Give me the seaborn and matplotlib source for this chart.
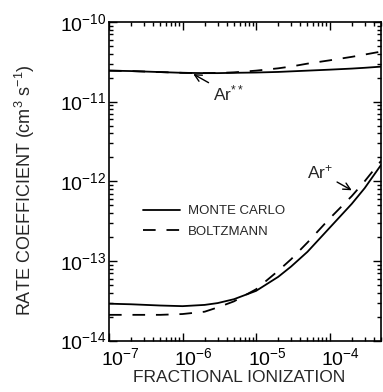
import numpy as np
import pandas as pd
import matplotlib
matplotlib.use("Agg")
import matplotlib.pyplot as plt
import matplotlib.transforms as mtransforms
from matplotlib.lines import Line2D
import seaborn as sns

# Fractional ionization grid
ionization = [1e-7, 2e-7, 5e-7, 1e-6, 2e-6, 3e-6, 5e-6, 1e-5,
              2e-5, 3e-5, 5e-5, 1e-4, 2e-4, 3e-4, 5e-4]

# Ar** rate coefficients (cm^3 s^-1)
ar_ss_monte_carlo = [2.45e-11, 2.42e-11, 2.35e-11, 2.30e-11, 2.28e-11, 2.28e-11, 2.30e-11, 2.32e-11,
                     2.36e-11, 2.40e-11, 2.45e-11, 2.52e-11, 2.60e-11, 2.66e-11, 2.75e-11]
ar_ss_boltzmann = [2.45e-11, 2.42e-11, 2.35e-11, 2.30e-11, 2.28e-11, 2.29e-11, 2.33e-11, 2.45e-11,
                   2.62e-11, 2.76e-11, 3.0e-11, 3.3e-11, 3.65e-11, 3.9e-11, 4.25e-11]

# Ar+ rate coefficients (cm^3 s^-1)
ar_p_monte_carlo = [2.9e-14, 2.85e-14, 2.75e-14, 2.7e-14, 2.8e-14, 2.95e-14, 3.3e-14, 4.2e-14,
                    6.3e-14, 8.5e-14, 1.3e-13, 2.6e-13, 5.2e-13, 8.2e-13, 1.6e-12]
ar_p_boltzmann = [2.1e-14, 2.1e-14, 2.1e-14, 2.15e-14, 2.3e-14, 2.6e-14, 3.1e-14, 4.4e-14,
                  7.5e-14, 1.05e-13, 1.7e-13, 3.4e-13, 6.5e-13, 1.0e-12, 1.8e-12]

methods = ["MONTE CARLO", "BOLTZMANN"]
x_major = [1e-7, 1e-6, 1e-5, 1e-4]
y_major = [1e-14, 1e-13, 1e-12, 1e-11, 1e-10]

sns.set_theme(style="ticks")
plt.rcParams["font.family"] = ["Liberation Sans", "DejaVu Sans"]
plt.rcParams["mathtext.fontset"] = "custom"
plt.rcParams["mathtext.rm"] = "Liberation Sans"
plt.rcParams["mathtext.it"] = "Liberation Sans"
plt.rcParams["mathtext.bf"] = "Liberation Sans:bold"

frames = []
for species, mc, bz in [("Ar**", ar_ss_monte_carlo, ar_ss_boltzmann),
                        ("Ar+", ar_p_monte_carlo, ar_p_boltzmann)]:
    for method, vals in zip(methods, [mc, bz]):
        frames.append(pd.DataFrame({"x": ionization, "k": vals,
                                    "method": method, "species": species}))
df = pd.concat(frames, ignore_index=True)

fig = plt.figure(figsize=(3.83, 3.92), dpi=100)
ax = fig.add_axes([109 / 383, 1 - 340.5 / 392, 272 / 383, 318.5 / 392])

line_kw = dict(color="black", linewidth=1.3)
dash_pattern = (7, 6)
sns.lineplot(data=df, x="x", y="k", style="method", units="species", estimator=None,
             dashes={"MONTE CARLO": "", "BOLTZMANN": dash_pattern},
             style_order=methods, ax=ax, legend=False, **line_kw)

ax.set_xscale("log")
ax.set_yscale("log")
ax.set_xlim(1e-7, 5e-4)
ax.set_ylim(1e-14, 1e-10)
ax.set_xticks(x_major)
ax.set_yticks(y_major)

ax.tick_params(which="both", direction="in", top=True, right=True, width=1, colors="black")
ax.tick_params(which="major", length=6, labelsize=14)
ax.tick_params(axis="y", which="major", pad=2)
ax.tick_params(axis="x", which="major", pad=5)
ax.tick_params(which="minor", length=3)
for s in ax.spines.values():
    s.set_linewidth(1.2)
    s.set_color("black")

# x tick labels sit with their "10" over the tick, exponent trailing right
shift = mtransforms.ScaledTranslation(8 / 72, 0, fig.dpi_scale_trans)
for tick in ax.xaxis.get_major_ticks():
    tick.label1.set_transform(tick.label1.get_transform() + shift)

ax.set_xlabel("FRACTIONAL IONIZATION", fontsize=12.5, labelpad=1)
ax.xaxis.set_label_coords(0.48, -0.092)
ax.xaxis.label.set_verticalalignment("top")
ax.set_ylabel("RATE COEFFICIENT (cm$^3$ s$^{-1}$)", fontsize=13)
ax.yaxis.set_label_coords(-0.265, 0.472)

handles = [Line2D([], [], color="black", lw=1.3),
           Line2D([], [], color="black", lw=1.3, dashes=dash_pattern)]
ax.legend(handles, methods, loc="upper left", bbox_to_anchor=(0.125, 0.425),
          frameon=False, fontsize=9.5, handlelength=2.8, handletextpad=0.6,
          labelspacing=0.6, borderpad=0, borderaxespad=0)

arrow = dict(arrowstyle="->", lw=1, color="black", shrinkA=1, shrinkB=0)
ax.annotate("Ar$^{**}$", xy=(1.4e-6, 2.22e-11), xytext=(2.6e-6, 1.25e-11),
            fontsize=12.5, ha="left", va="center", arrowprops=arrow)
ax.annotate("Ar$^{+}$", xy=(2.0e-4, 7.7e-13), xytext=(7.3e-5, 1.3e-12),
            fontsize=12.5, ha="center", va="center", arrowprops=arrow)

fig.savefig("out.png", dpi=100)
